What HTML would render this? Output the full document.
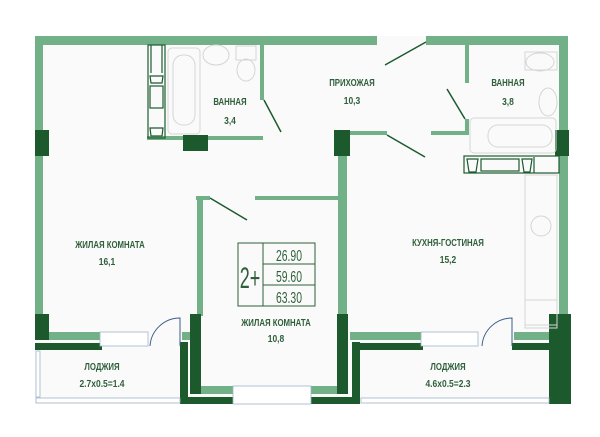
<!DOCTYPE html>
<html><head><meta charset="utf-8"><style>
html,body{margin:0;padding:0;background:#fff;}
svg{display:block}
text{font-family:"Liberation Sans","DejaVu Sans",sans-serif;font-weight:bold;fill:#2f5f3a;text-anchor:middle;}
</style></head><body>
<svg width="600" height="437" viewBox="0 0 600 437" xmlns="http://www.w3.org/2000/svg">
<rect width="600" height="437" fill="#ffffff"/>
<rect x="35" y="36" width="533" height="368" fill="#fafafa"/>
<g fill="#72b187">
<rect x="35" y="36" width="342" height="9"/>
<rect x="426" y="36" width="142" height="9"/>
<rect x="35" y="36" width="8" height="280"/>
<rect x="559" y="36" width="9" height="280"/>
<rect x="260" y="45" width="4" height="55"/>
<rect x="147" y="136" width="116" height="4"/>
<rect x="196" y="196" width="14" height="4"/>
<rect x="255" y="196" width="84" height="4"/>
<rect x="197" y="196" width="6" height="120"/>
<rect x="338" y="150" width="9" height="166"/>
<rect x="350" y="131" width="37" height="4"/>
<rect x="431" y="131" width="38" height="4"/>
<rect x="465" y="45" width="4" height="38"/>
<rect x="465" y="119" width="4" height="16"/>
<rect x="43" y="332" width="57" height="8"/>
<rect x="182" y="332" width="9" height="8"/>
<rect x="201" y="386" width="32" height="8"/>
<rect x="311" y="386" width="27" height="8"/>
<rect x="350" y="332" width="71" height="8"/>
<rect x="514" y="332" width="45" height="8"/>
</g>
<g fill="#1c5a2e">
<rect x="35" y="130" width="14" height="26"/>
<rect x="183" y="135" width="25" height="16"/>
<rect x="334" y="130" width="16" height="26"/>
<rect x="555" y="130" width="14" height="26"/>
<rect x="35" y="314" width="14" height="26"/>
<rect x="35" y="343" width="67" height="7"/>
<rect x="190" y="314" width="11" height="80"/>
<rect x="180" y="342" width="8" height="62"/>
<rect x="180" y="397" width="55" height="7"/>
<rect x="337" y="314" width="11" height="80"/>
<rect x="352" y="342" width="8" height="62"/>
<rect x="309" y="397" width="51" height="7"/>
<rect x="360" y="343" width="63" height="7"/>
<rect x="512" y="343" width="46" height="7"/>
<rect x="549" y="314" width="22" height="90"/>
</g>
<g fill="#fff" stroke="#9fb3c8" stroke-width="0.8">
<rect x="100" y="332" width="48" height="14"/>
<rect x="233" y="386" width="78" height="18"/>
<rect x="421" y="332" width="57" height="14"/>
<rect x="36" y="398" width="144" height="5"/>
<rect x="361" y="398" width="188" height="5"/>
<rect x="36" y="351" width="4" height="46"/>
</g>
<g fill="none" stroke="#3c5f8a" stroke-width="1">
<path d="M150 346 A30 30 0 0 1 180 318 L180 346"/>
<path d="M482 346 A30 30 0 0 1 512 318 L512 346"/>
</g>
<g stroke="#1c5a2e" stroke-width="1.5">
<line x1="264" y1="100" x2="281" y2="132"/>
<line x1="426" y1="42" x2="385" y2="65"/>
<line x1="447" y1="89" x2="465" y2="119"/>
<line x1="387" y1="135" x2="425" y2="157"/>
<line x1="210" y1="198" x2="247" y2="220"/>
</g>
<g fill="none" stroke="#1c5a2e" stroke-width="1.2">
<rect x="148" y="45" width="17" height="93"/>
<line x1="151" y1="45" x2="151" y2="73"/><line x1="162" y1="45" x2="162" y2="73"/>
<path d="M150 76 L163 76 L162 83 L151 83 Z"/>
<rect x="150" y="86" width="13" height="22"/>
<path d="M150 128 L163 128 L162 136 L151 136 Z"/>
<rect x="464" y="156" width="95" height="17"/>
<path d="M467 159 L478 159 L476 172 L469 172 Z"/>
<rect x="481" y="159" width="38" height="12"/>
<path d="M522 159 L532 159 L530 172 L524 172 Z"/>
<line x1="534" y1="157" x2="534" y2="173"/>
</g>
<g fill="none" stroke="#d5d5d5" stroke-width="1">
<rect x="168" y="48" width="32" height="86" rx="4"/>
<rect x="173" y="55" width="22" height="70" rx="10"/>
<ellipse cx="216" cy="55" rx="13" ry="10"/>
<rect x="236" y="46" width="20" height="14"/>
<ellipse cx="246" cy="70" rx="9" ry="11"/>
<rect x="470" y="118" width="86" height="35" rx="4"/>
<rect x="488" y="125" width="64" height="22" rx="10"/>
<rect x="525" y="52" width="32" height="18"/>
<ellipse cx="540" cy="62" rx="14" ry="9"/>
<ellipse cx="548" cy="102" rx="9" ry="14"/>
<rect x="525" y="175" width="32" height="150"/>
<circle cx="541" cy="226" r="10"/>
<rect x="525" y="300" width="32" height="28"/>
</g>
<g fill="none" stroke="#2f5f3a" stroke-width="1">
<rect x="238" y="243" width="77" height="63"/>
<line x1="263" y1="243" x2="263" y2="306"/>
<line x1="263" y1="264" x2="315" y2="264"/>
<line x1="263" y1="285" x2="315" y2="285"/>
</g>
<g>
<text x="250" y="288" font-size="30" style="font-weight:normal" transform="translate(250 0) scale(0.6 1) translate(-250 0)">2+</text>
<text x="289" y="261" font-size="16" style="font-weight:normal" transform="translate(289 0) scale(0.65 1) translate(-289 0)">26.90</text>
<text x="289" y="282" font-size="16" style="font-weight:normal" transform="translate(289 0) scale(0.65 1) translate(-289 0)">59.60</text>
<text x="289" y="303" font-size="16" style="font-weight:normal" transform="translate(289 0) scale(0.65 1) translate(-289 0)">63.30</text>
</g>
<g font-size="10">
<text x="230" y="105" transform="translate(230 0) scale(0.78 1) translate(-230 0)">ВАННАЯ</text>
<text x="230" y="124" transform="translate(230 0) scale(0.85 1) translate(-230 0)">3,4</text>
<text x="352" y="86" transform="translate(352 0) scale(0.78 1) translate(-352 0)">ПРИХОЖАЯ</text>
<text x="352" y="104" transform="translate(352 0) scale(0.85 1) translate(-352 0)">10,3</text>
<text x="508" y="86" transform="translate(508 0) scale(0.78 1) translate(-508 0)">ВАННАЯ</text>
<text x="508" y="105" transform="translate(508 0) scale(0.85 1) translate(-508 0)">3,8</text>
<text x="110" y="248" transform="translate(110 0) scale(0.78 1) translate(-110 0)">ЖИЛАЯ КОМНАТА</text>
<text x="107" y="265" transform="translate(107 0) scale(0.85 1) translate(-107 0)">16,1</text>
<text x="448" y="246" transform="translate(448 0) scale(0.78 1) translate(-448 0)">КУХНЯ-ГОСТИНАЯ</text>
<text x="448" y="263" transform="translate(448 0) scale(0.85 1) translate(-448 0)">15,2</text>
<text x="276" y="326" transform="translate(276 0) scale(0.78 1) translate(-276 0)">ЖИЛАЯ КОМНАТА</text>
<text x="276" y="342" transform="translate(276 0) scale(0.85 1) translate(-276 0)">10,8</text>
<text x="102" y="370" transform="translate(102 0) scale(0.78 1) translate(-102 0)">ЛОДЖИЯ</text>
<text x="102" y="387" transform="translate(102 0) scale(0.85 1) translate(-102 0)">2.7x0.5=1.4</text>
<text x="448" y="370" transform="translate(448 0) scale(0.78 1) translate(-448 0)">ЛОДЖИЯ</text>
<text x="448" y="387" transform="translate(448 0) scale(0.85 1) translate(-448 0)">4.6x0.5=2.3</text>
</g>
</svg>
</body></html>
